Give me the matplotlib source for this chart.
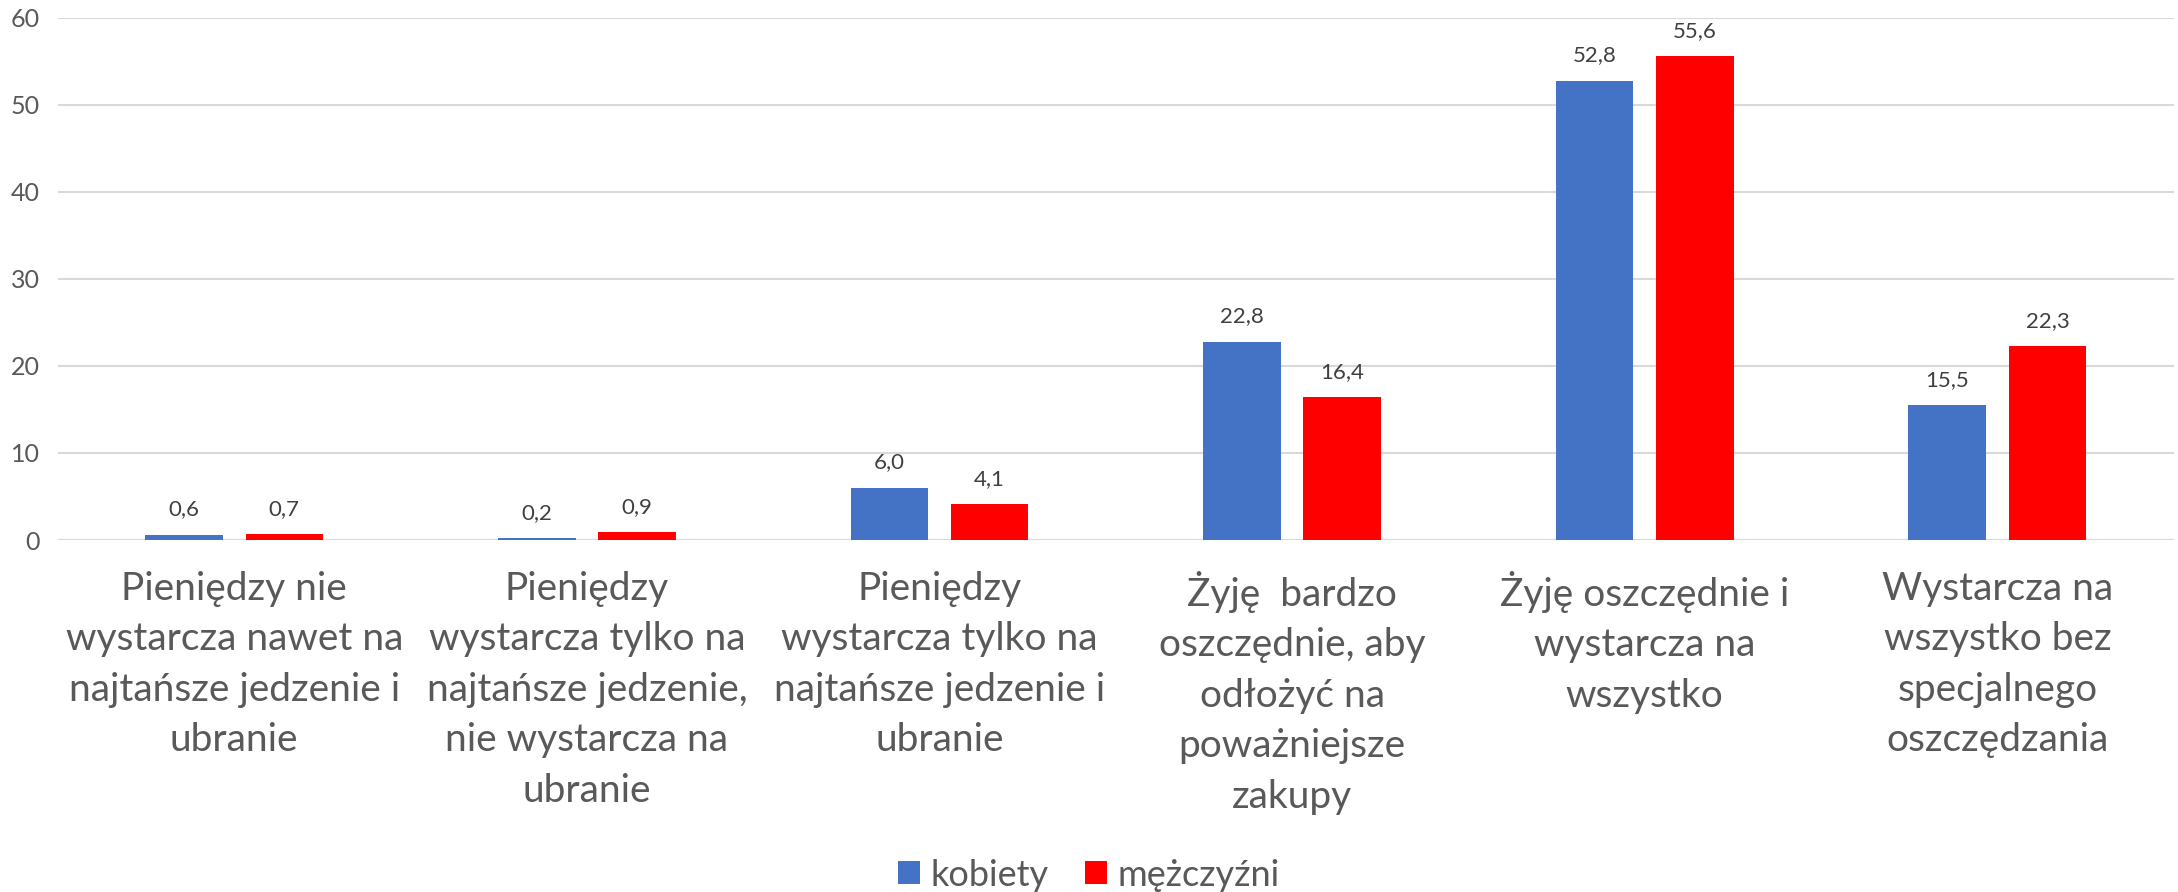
import numpy as np
import matplotlib.pyplot as plt

plt.rcParams['font.family'] = ['Lato', 'DejaVu Sans']

categories = [
    "Pieniędzy nie\nwystarcza nawet na\nnajtańsze jedzenie i\nubranie",
    "Pieniędzy\nwystarcza tylko na\nnajtańsze jedzenie,\nnie wystarcza na\nubranie",
    "Pieniędzy\nwystarcza tylko na\nnajtańsze jedzenie i\nubranie",
    "Żyję  bardzo\noszczędnie, aby\nodłożyć na\npoważniejsze\nzakupy",
    "Żyję oszczędnie i\nwystarcza na\nwszystko",
    "Wystarcza na\nwszystko bez\nspecjalnego\noszczędzania",
]
kobiety = [0.6, 0.2, 6.0, 22.8, 52.8, 15.5]
mezczyzni = [0.7, 0.9, 4.1, 16.4, 55.6, 22.3]
yticks = [0, 10, 20, 30, 40, 50, 60]

gray = '#595959'
fig = plt.figure(figsize=(21.78, 8.92), dpi=100)
ax = fig.add_axes([0.0266, 0.3946, 0.9714, 0.5854])

x = np.arange(len(categories))
w = 0.22
off = 0.142
b1 = ax.bar(x - off, kobiety, w, color='#4472C4', label='kobiety', zorder=3)
b2 = ax.bar(x + off, mezczyzni, w, color='#FF0000', label='mężczyźni', zorder=3)

for bars, vals in ((b1, kobiety), (b2, mezczyzni)):
    for r, v in zip(bars, vals):
        ax.annotate(f"{v:.1f}".replace('.', ','), (r.get_x() + r.get_width() / 2, v),
                    xytext=(0, 11), textcoords='offset points', ha='center', va='bottom',
                    fontsize=16, color='#404040')

ax.set_xlim(-0.5, len(categories) - 0.5)
ax.set_ylim(0, 60)
ax.set_yticks(yticks)
ax.set_yticklabels([str(t) for t in yticks], fontsize=18, color=gray)
ax.yaxis.grid(True, color='#D9D9D9', linewidth=1.5, zorder=0)
ax.set_xticks(x)
ax.set_xticklabels(categories, fontsize=28, color=gray, linespacing=1.5)
ax.tick_params(axis='both', length=0)
ax.tick_params(axis='x', pad=22)
ax.tick_params(axis='y', pad=13)
for s in ax.spines.values():
    s.set_visible(False)
ax.axhline(0, color='#D9D9D9', linewidth=1.5, zorder=2)

fig.legend(handles=[b1, b2], loc='lower center', bbox_to_anchor=(0.5, -0.036), ncol=2,
           frameon=False, fontsize=26, labelcolor=gray, handlelength=0.6, handleheight=0.6,
           handletextpad=0.3, columnspacing=1.0)

fig.savefig('out.png', dpi=100, facecolor='white')
